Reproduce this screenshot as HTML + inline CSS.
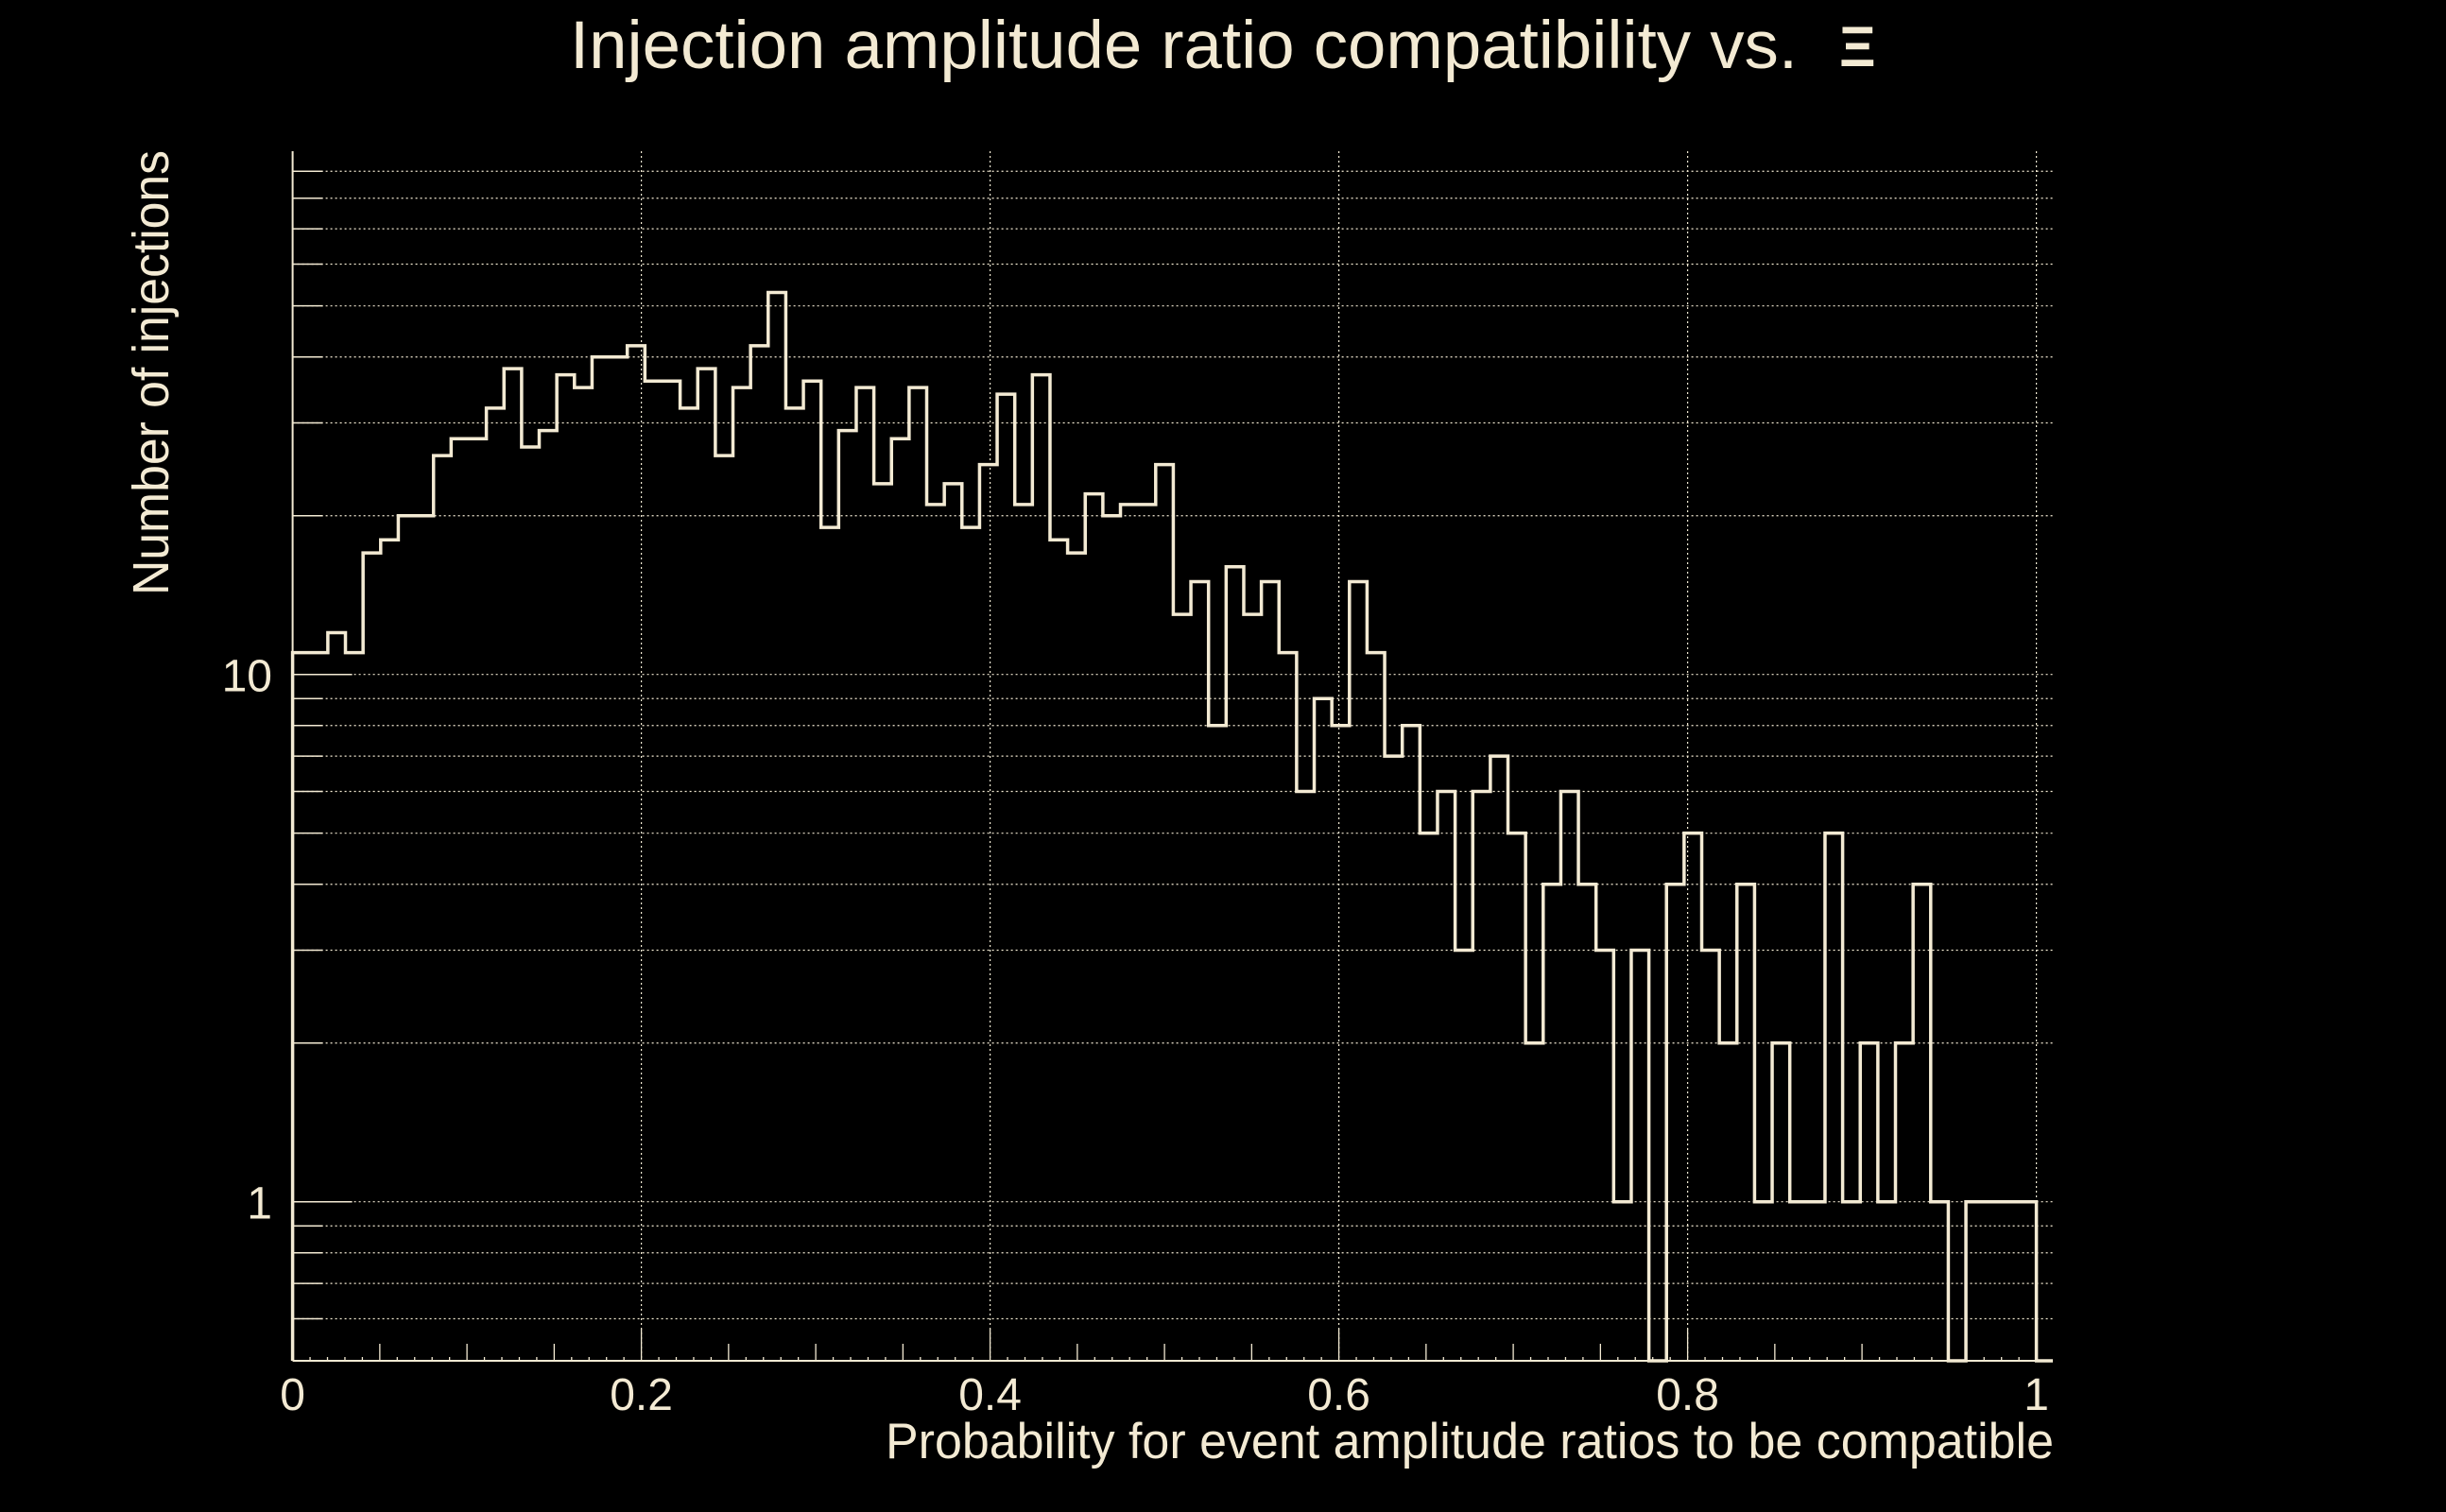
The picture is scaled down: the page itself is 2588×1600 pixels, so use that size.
<!DOCTYPE html>
<html><head><meta charset="utf-8"><style>
html,body{margin:0;padding:0;background:#000;}
svg{display:block;}
text{font-family:"Liberation Sans",sans-serif;fill:#f3ead3;}
</style></head><body>
<svg id="chart" width="2588" height="1600" viewBox="0 0 2588 1600" xmlns="http://www.w3.org/2000/svg">
<rect width="2588" height="1600" fill="#000"/>
<g id="grid"></g>
<g id="axes"></g>
<path id="hist" fill="none" stroke="#f3ead3" stroke-width="3.5" stroke-linejoin="miter"/>
<text x="603" y="72" font-size="71" textLength="1299" lengthAdjust="spacingAndGlyphs">Injection amplitude ratio compatibility vs.</text>
<text x="1946" y="70" font-size="60" font-weight="bold" font-family="Liberation Serif, serif">Ξ</text>
<text transform="translate(178,630) rotate(-90)" font-size="54" textLength="471" lengthAdjust="spacingAndGlyphs">Number of injections</text>
<text x="937" y="1543" font-size="53" textLength="1236" lengthAdjust="spacingAndGlyphs">Probability for event amplitude ratios to be compatible</text>
<g id="labels"></g>
</svg>
<script>
const counts = [11,11,12,11,17,18,20,20,26,28,28,32,38,27,29,37,35,40,40,42,36,36,32,38,26,35,42,53,32,36,19,29,35,23,28,35,21,23,19,25,34,21,37,18,17,22,20,21,21,25,13,15,8,16,13,15,11,6,9,8,15,11,7,8,5,6,3,6,7,5,2,4,6,4,3,1,3,0,4,5,3,2,4,1,2,1,1,5,1,2,1,2,4,1,0,1,1,1,1];
const xRange = [0, 1];
const xTickValues = [0, 0.2, 0.4, 0.6, 0.8, 1];
const xTickLabels = ["0", "0.2", "0.4", "0.6", "0.8", "1"];
const yMajorValues = [1, 10];
const yMajorLabels = ["1", "10"];
const yGridValues = [0.5,0.6,0.7,0.8,0.9,1,2,3,4,5,6,7,8,9,10,20,30,40,50,60,70,80,90];

const NS = "http://www.w3.org/2000/svg";
const COL = "#f3ead3";
const PL = 309.6, PR = 2154.6, PT = 160, PB = 1440, AXR = 2172;
function X(v){ return PL + (v - xRange[0]) / (xRange[1] - xRange[0]) * (PR - PL); }
function Y(v){ if (v <= 0.5) return PB; return 1271.7 - 558 * Math.log10(v); }
function mk(tag, attrs, parent){
  const e = document.createElementNS(NS, tag);
  for (const k in attrs) e.setAttribute(k, attrs[k]);
  parent.appendChild(e);
  return e;
}
const grid = document.getElementById('grid');
const axes = document.getElementById('axes');
const labels = document.getElementById('labels');

yGridValues.forEach(v => {
  const y = Y(v);
  if (v > 0.5) {
    const g = mk('line', {x1: PL, x2: AXR, y1: y, y2: y, stroke: COL, 'stroke-width': 1.2, 'stroke-dasharray': '2 3'}, grid);
    
    
  }
  const major = yMajorValues.indexOf(v) >= 0;
  const t = mk('line', {x1: PL, x2: PL + (major ? 63 : 32), y1: y, y2: y, stroke: COL, 'stroke-width': 1.5}, axes);
  
  
});
xTickValues.forEach((v, i) => {
  const x = X(v);
  if (v > 0) {
    const g = mk('line', {x1: x, x2: x, y1: PT, y2: PB, stroke: COL, 'stroke-width': 1.2, 'stroke-dasharray': '2 3'}, grid);
    
    
  }
  const l = mk('text', {x: x, y: 1492, 'font-size': 48, 'text-anchor': 'middle'}, labels);
  l.textContent = xTickLabels[i];
  
  
});
for (let k = 0; k <= 100; k++) {
  const v = k / 100;
  const x = X(v);
  const h = (k % 20 === 0) ? 34 : (k % 5 === 0 ? 18 : 4);
  const t = mk('line', {x1: x, x2: x, y1: PB, y2: PB - h, stroke: COL, 'stroke-width': 1.3}, axes);
  
  
}
yMajorValues.forEach((v, i) => {
  const l = mk('text', {x: 288, y: Y(v) + 18, 'font-size': 48, 'text-anchor': 'end'}, labels);
  l.textContent = yMajorLabels[i];
  
  
});
const ya = mk('line', {x1: PL, x2: PL, y1: PT, y2: PB, stroke: COL, 'stroke-width': 2}, axes);


const xa = mk('line', {x1: PL, x2: AXR, y1: PB, y2: PB, stroke: COL, 'stroke-width': 2}, axes);



const n = counts.length;
let d = 'M' + X(0) + ' ' + PB;
for (let i = 0; i < n; i++) {
  const x0 = X(i / n), x1 = X((i + 1) / n), y = Y(counts[i]);
  d += ' L' + x0.toFixed(2) + ' ' + y.toFixed(2) + ' L' + x1.toFixed(2) + ' ' + y.toFixed(2);
}
d += ' L' + X(1) + ' ' + PB + ' L' + AXR + ' ' + PB;
document.getElementById('hist').setAttribute('d', d);
</script>
</body></html>
